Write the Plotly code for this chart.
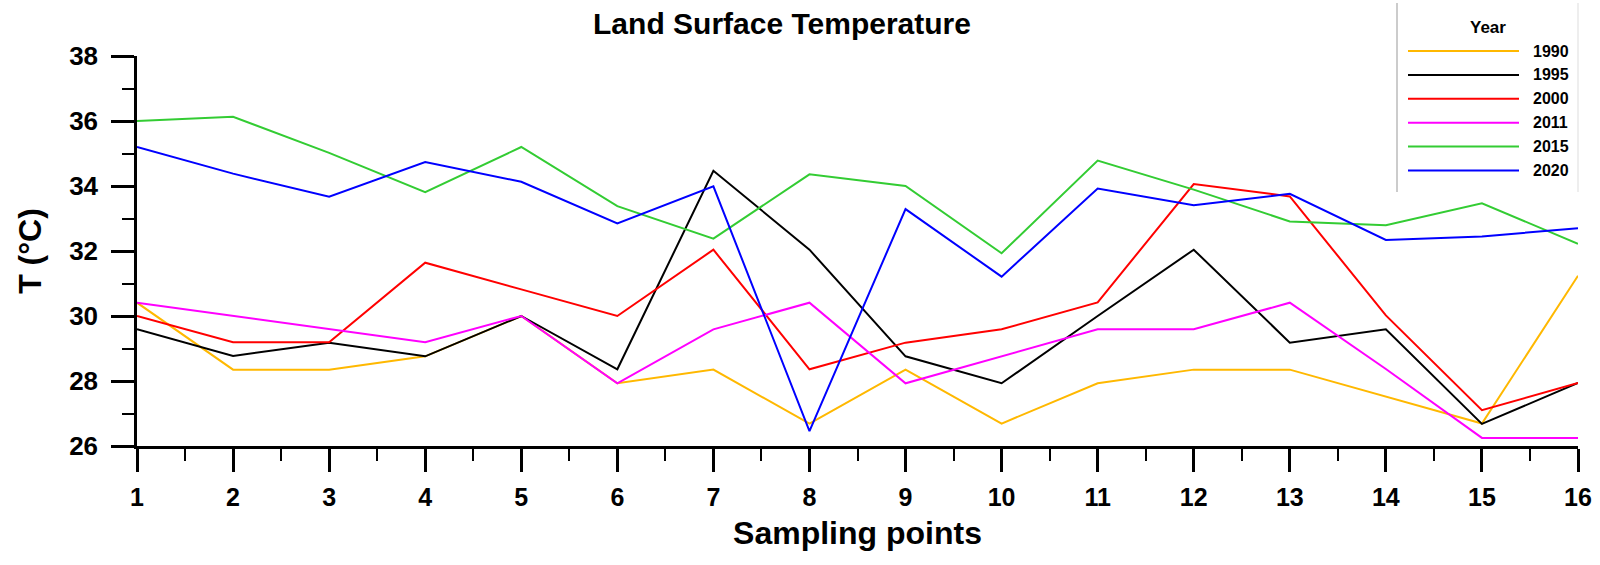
import plotly.graph_objects as go

# ---- data ----
points = list(range(1, 17))
years = ["1990", "1995", "2000", "2011", "2015", "2020"]
y1990 = [30.41, 28.35, 28.35, 28.76, 30.0, 27.93, 28.35, 26.69, 28.35, 26.69, 27.93, 28.35, 28.35, 27.52, 26.69, 31.24]
y1995 = [29.59, 28.77, 29.18, 28.76, 30.0, 28.36, 34.47, 32.04, 28.76, 27.93, 30.0, 32.04, 29.18, 29.59, 26.68, 27.94]
y2000 = [30.0, 29.19, 29.19, 31.64, 30.82, 30.0, 32.04, 28.36, 29.18, 29.59, 30.42, 34.06, 33.68, 30.02, 27.10, 27.94]
y2011 = [30.41, 30.0, 29.59, 29.19, 30.0, 27.93, 29.59, 30.41, 27.93, 28.76, 29.59, 29.59, 30.41, 28.37, 26.25, 26.25]
y2015 = [36.0, 36.13, 35.02, 33.81, 35.20, 33.38, 32.38, 34.36, 34.0, 31.93, 34.78, 33.89, 32.91, 32.79, 33.47, 32.22]
y2020 = [35.20, 34.38, 33.67, 34.74, 34.13, 32.85, 33.99, 26.46, 33.29, 31.21, 33.92, 33.41, 33.76, 32.34, 32.45, 32.70]
series = [y1990, y1995, y2000, y2011, y2015, y2020]
colors = ["#FFB800", "#000000", "#FF0000", "#FF00FF", "#33CC33", "#0000FF"]
yticks = [26, 28, 30, 32, 34, 36, 38]

FONT = "Liberation Sans, Arial, sans-serif"
W, H = 1600, 565
ML, MR, MT, MB = 137, 22, 56, 119
PW, PH = W - ML - MR, H - MT - MB


def px(xp):
    return (xp - ML) / PW


def py(yp):
    return (H - MB - yp) / PH


fig = go.Figure()
for name, vals, col in zip(years, series, colors):
    fig.add_trace(go.Scatter(x=points, y=vals, mode="lines", name=name,
                             line=dict(color=col, width=2), showlegend=False))

# custom legend (long line samples as in reference)
fig.add_annotation(x=px(1488), y=py(27), xref="paper", yref="paper", text="<b>Year</b>",
                   showarrow=False, font=dict(family=FONT, size=17, color="black"),
                   xanchor="center", yanchor="middle")
for i, (name, col) in enumerate(zip(years, colors)):
    yy = py(51 + i * 23.9)
    fig.add_shape(type="line", xref="paper", yref="paper", x0=px(1408), x1=px(1519), y0=yy, y1=yy,
                  line=dict(color=col, width=2))
    fig.add_annotation(x=px(1531), y=yy, xref="paper", yref="paper", text=f"<b>{name}</b>",
                       showarrow=False, font=dict(family=FONT, size=16, color="black"),
                       xanchor="left", yanchor="middle")
fig.add_shape(type="line", xref="paper", yref="paper", x0=px(1397), x1=px(1397), y0=py(3), y1=py(192),
              line=dict(color="#BBBBBB", width=1.5))
fig.add_shape(type="line", xref="paper", yref="paper", x0=px(1578), x1=px(1578), y0=py(3), y1=py(192),
              line=dict(color="#E8E8E8", width=1.5))

fig.update_layout(
    width=W, height=H,
    margin=dict(l=ML, r=MR, t=MT, b=MB, autoexpand=False),
    paper_bgcolor="white", plot_bgcolor="white",
    title=dict(text="<b>Land Surface Temperature</b>", x=782 / W, xref="container", xanchor="center",
               y=1 - 23 / H, yref="container", yanchor="middle",
               font=dict(family=FONT, size=30, color="black")),
    font=dict(family=FONT, color="black"),
)
fig.update_xaxes(
    range=[1, 16], tickmode="array", tickvals=points, ticktext=[f"<b>{p}</b>" for p in points],
    showgrid=False, zeroline=False, showline=True, linecolor="black", linewidth=2.5,
    ticks="outside", ticklen=23, tickwidth=2.5, tickcolor="black",
    tickfont=dict(family=FONT, size=25, color="black"), ticklabelstandoff=4,
    minor=dict(ticks="outside", ticklen=12, tickwidth=2, tickcolor="black", dtick=0.5, tick0=1, showgrid=False),
    title=dict(text="<b>Sampling points</b>", font=dict(family=FONT, size=32, color="black"), standoff=12),
)
fig.update_yaxes(
    range=[26, 38], tickmode="array", tickvals=yticks,
    ticktext=[f"<b>{v}</b>" for v in yticks],
    showgrid=False, zeroline=False, showline=True, linecolor="black", linewidth=2.5,
    ticks="outside", ticklen=23, tickwidth=2.5, tickcolor="black",
    tickfont=dict(family=FONT, size=26, color="black"), ticklabelstandoff=8,
    minor=dict(ticks="outside", ticklen=12, tickwidth=2, tickcolor="black", dtick=1, tick0=26, showgrid=False),
    title=dict(text="<b>T (°C)</b>", font=dict(family=FONT, size=32, color="black"), standoff=18),
)

fig.write_html("out.html", config={"displayModeBar": False},
               post_script="document.body.style.margin='0';")
